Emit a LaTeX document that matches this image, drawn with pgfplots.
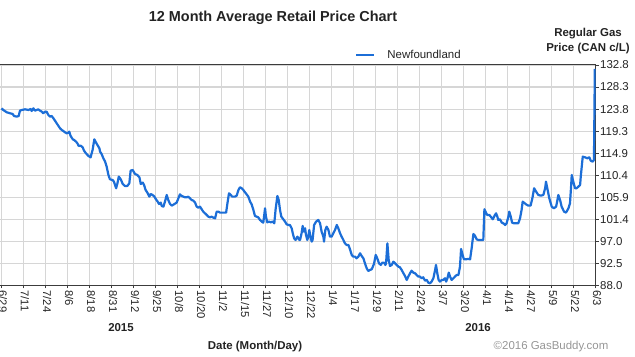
\documentclass[border=0pt]{standalone}
\usepackage{pgfplots}
\pgfplotsset{compat=1.18}
\usepackage{fontspec}
\setmainfont{Liberation Sans}
\definecolor{gbblue}{RGB}{28,110,215}
\definecolor{gridc}{RGB}{214,214,214}
\definecolor{framec}{RGB}{60,60,60}
\definecolor{txt}{RGB}{35,35,35}
\definecolor{copyc}{RGB}{150,150,150}
\begin{document}
\begin{tikzpicture}
\begin{axis}[
  at={(-20.5bp,-285.3bp)}, anchor=south west,
  scale only axis, width=616bp, height=220.3bp,
  xmin=-1, xmax=27, ymin=88, ymax=132.8,
  axis line style={framec, line width=1bp},
  xtick={0,...,27},
  xticklabels={6/29,7/11,7/24,8/6,8/18,8/31,9/12,9/25,10/8,10/20,11/2,11/15,11/27,12/10,12/22,1/4,1/17,1/29,2/11,2/24,3/7,3/20,4/1,4/14,4/27,5/9,5/22,6/3},
  ytick={88,92.48,96.96,101.44,105.92,110.40,114.88,119.36,123.84,128.32,132.8},
  yticklabels={88.0,92.5,97.0,101.4,105.9,110.4,114.9,119.3,123.8,128.3,132.8},
  yticklabel pos=right,
  xtick pos=lower, ytick pos=right,
  tick align=outside, major tick length=3bp,
  tick style={framec, line width=0.8bp},
  grid=major, major grid style={gridc, line width=1.1bp},
  /pgf/number format/assume math mode=true,
  xticklabel style={rotate=-90, anchor=base west, inner sep=1bp, yshift=-2.5bp, xshift=1bp, font=\fontsize{11.3}{13}\selectfont, text=txt},
  yticklabel style={anchor=west, inner sep=1.5bp, font=\fontsize{11.5}{13}\selectfont, text=txt},
  legend style={at={(0.6096,1.045)}, anchor=west, draw=none, fill=none,
    font=\fontsize{11.5}{13}\selectfont, text=txt, inner sep=0pt,
    /tikz/every odd column/.append style={column sep=10bp}},
  legend image code/.code={\draw[#1] (0bp,0bp) -- (18bp,0bp);},
]
\addplot[gbblue, line width=2.2bp, line join=round] table {
x y
0.00 123.99
0.08 123.65
0.24 123.18
0.39 122.98
0.51 122.84
0.57 122.43
0.69 122.30
0.78 122.43
0.84 123.52
0.92 123.65
1.07 123.79
1.22 123.65
1.33 123.86
1.37 123.45
1.45 123.99
1.52 123.52
1.60 123.65
1.67 123.79
1.75 123.52
1.83 123.31
1.90 122.98
1.98 123.31
2.05 123.31
2.13 122.64
2.21 122.30
2.28 122.43
2.36 121.96
2.43 121.48
2.51 120.94
2.58 120.47
2.66 119.93
2.74 119.59
2.81 119.38
2.89 119.11
2.96 118.91
3.04 119.04
3.08 119.25
3.14 118.37
3.24 117.69
3.30 117.55
3.39 117.21
3.45 116.87
3.51 116.33
3.60 116.40
3.69 116.06
3.75 115.38
3.84 114.84
3.95 114.30
4.05 114.03
4.14 115.52
4.22 117.69
4.30 117.01
4.36 116.54
4.45 115.86
4.48 115.18
4.55 114.71
4.63 113.83
4.71 113.15
4.78 112.13
4.86 110.44
4.93 109.55
5.05 109.42
5.11 109.08
5.21 107.73
5.27 108.74
5.33 110.10
5.42 109.55
5.51 108.61
5.61 108.20
5.72 108.20
5.81 108.74
5.87 111.32
5.96 111.45
6.07 110.64
6.17 110.44
6.27 109.96
6.33 108.61
6.42 108.88
6.48 108.40
6.55 107.39
6.63 106.84
6.72 106.03
6.78 106.57
6.87 106.37
6.95 106.03
7.02 105.49
7.10 105.01
7.16 104.54
7.24 104.81
7.28 104.13
7.36 104.00
7.43 105.01
7.51 106.37
7.58 105.35
7.66 104.54
7.74 104.20
7.84 104.47
7.96 104.81
8.04 105.69
8.11 106.50
8.19 106.17
8.27 106.03
8.34 105.89
8.42 105.89
8.49 106.03
8.57 105.69
8.64 105.35
8.72 105.22
8.80 104.81
8.87 104.00
8.95 103.79
9.02 104.00
9.10 103.46
9.17 102.98
9.25 102.64
9.33 102.30
9.40 101.96
9.48 101.83
9.55 101.96
9.63 101.76
9.71 101.63
9.78 102.98
9.86 102.98
9.93 102.78
10.08 102.78
10.21 102.78
10.27 104.67
10.34 106.71
10.42 106.37
10.49 106.03
10.61 106.03
10.69 106.23
10.77 107.39
10.84 107.93
10.92 107.73
10.99 107.39
11.07 106.91
11.14 106.50
11.22 106.03
11.30 105.01
11.37 104.47
11.45 103.32
11.52 102.10
11.60 101.96
11.67 101.83
11.75 101.29
11.83 100.95
11.90 100.74
11.98 103.66
12.02 101.96
12.08 100.81
12.16 100.95
12.24 100.81
12.33 100.95
12.40 100.61
12.46 103.46
12.54 106.17
12.60 105.35
12.66 103.32
12.72 101.96
12.81 101.42
12.89 100.95
12.96 100.40
13.04 100.27
13.11 100.27
13.19 99.59
13.24 98.57
13.30 97.56
13.37 97.22
13.45 97.90
13.54 97.22
13.57 97.22
13.64 98.57
13.69 100.07
13.75 98.91
13.80 99.59
13.84 98.24
13.90 97.22
13.95 98.03
13.99 99.25
14.05 97.76
14.10 96.88
14.14 97.22
14.21 100.27
14.30 100.95
14.40 101.29
14.48 100.61
14.55 98.91
14.63 97.90
14.66 96.88
14.72 99.25
14.78 99.93
14.86 99.25
14.93 97.90
15.01 97.90
15.08 98.57
15.16 99.25
15.24 100.27
15.31 99.59
15.39 98.57
15.46 97.90
15.54 97.22
15.61 96.54
15.69 96.20
15.77 96.20
15.84 95.32
15.92 94.17
15.99 93.83
16.07 93.83
16.14 93.49
16.22 93.83
16.30 94.51
16.37 93.97
16.45 93.49
16.52 92.48
16.60 91.46
16.67 90.92
16.75 91.12
16.83 91.26
16.93 92.34
17.01 94.17
17.08 93.49
17.16 92.48
17.24 92.14
17.31 92.61
17.39 92.61
17.45 92.14
17.48 92.48
17.54 96.54
17.60 93.15
17.66 91.93
17.74 92.14
17.81 92.81
17.89 92.48
17.96 92.14
18.04 91.80
18.11 91.66
18.19 91.12
18.27 90.44
18.34 89.90
18.42 89.09
18.49 89.77
18.57 90.44
18.64 90.98
18.72 90.58
18.80 90.44
18.87 90.10
18.95 89.77
19.02 89.77
19.10 89.43
19.17 89.63
19.25 88.95
19.33 89.09
19.40 88.54
19.48 88.41
19.55 88.75
19.63 89.43
19.71 91.12
19.75 92.14
19.81 90.44
19.87 89.09
19.93 88.75
20.01 89.09
20.08 89.09
20.16 89.43
20.21 88.75
20.27 89.43
20.33 90.58
20.39 89.77
20.46 89.09
20.54 89.43
20.61 89.77
20.69 90.10
20.77 90.10
20.84 91.80
20.89 95.39
20.96 94.17
21.02 93.29
21.11 93.29
21.22 93.36
21.30 93.29
21.37 95.53
21.45 98.44
21.52 98.10
21.60 97.35
21.67 97.22
21.75 97.22
21.83 97.22
21.90 97.22
21.95 103.46
22.02 102.78
22.08 102.30
22.17 102.30
22.24 101.96
22.33 101.42
22.43 102.30
22.48 102.64
22.54 101.96
22.58 101.29
22.66 101.42
22.74 100.74
22.81 100.61
22.89 100.27
22.96 100.61
23.04 101.96
23.08 102.98
23.14 102.10
23.21 100.74
23.30 100.61
23.39 100.61
23.49 100.61
23.57 101.63
23.64 103.32
23.69 105.01
23.75 104.81
23.84 104.47
23.95 104.20
24.05 104.20
24.13 105.69
24.21 107.73
24.30 107.05
24.40 106.37
24.51 106.23
24.63 106.37
24.71 107.73
24.75 109.08
24.81 107.73
24.90 105.69
25.01 104.00
25.11 103.66
25.21 104.00
25.27 105.35
25.31 106.37
25.39 105.35
25.46 104.00
25.57 102.98
25.66 102.78
25.77 103.66
25.84 104.67
25.89 108.06
25.92 110.44
25.99 109.08
26.07 107.73
26.14 107.73
26.22 108.06
26.30 108.40
26.33 110.10
26.42 114.16
26.52 114.03
26.63 113.83
26.72 114.03
26.78 113.35
26.87 113.15
26.93 113.49
26.97 132.00
};
\addlegendentry{Newfoundland}
\end{axis}
\pgfresetboundingbox
\path[use as bounding box] (0bp,-357bp) rectangle (635bp,0bp);
\node[font=\bfseries\fontsize{14.5}{17}\selectfont, text=txt] at (273bp,-18bp) {12 Month Average Retail Price Chart};
\node[font=\bfseries\fontsize{11.5}{15.5}\selectfont, text=txt, align=center] at (588bp,-41bp) {Regular Gas\\Price (CAN c/L)};
\node[font=\bfseries\fontsize{11.5}{13}\selectfont, text=txt] at (121bp,-328bp) {2015};
\node[font=\bfseries\fontsize{11.5}{13}\selectfont, text=txt] at (478bp,-328bp) {2016};
\node[font=\bfseries\fontsize{11.5}{13}\selectfont, text=txt] at (255bp,-347bp) {Date (Month/Day)};
\node[font=\fontsize{11.5}{13}\selectfont, text=copyc] at (551bp,-347bp) {©2016 GasBuddy.com};
\end{tikzpicture}
\end{document}
